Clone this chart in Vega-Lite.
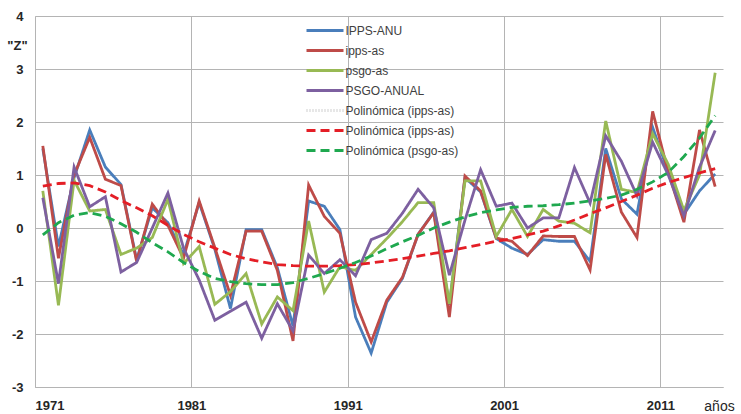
{
  "$schema": "https://vega.github.io/schema/vega-lite/v6.json",
  "width": 688,
  "height": 371,
  "autosize": "none",
  "padding": {"left": 35, "top": 16, "right": 18, "bottom": 27},
  "background": "white",
  "config": {"view": {"stroke": null}, "font": "Liberation Sans"},
  "data": {"values": [
    {"year":1971,"IPPS-ANU":1.5,"ipps-as":1.55,"psgo-as":0.7,"PSGO-ANUAL":0.57,"Polinómica (ipps-as)":0.79,"Polinómica (psgo-as)":-0.13},
    {"year":1972,"IPPS-ANU":-0.35,"ipps-as":-0.57,"psgo-as":-1.46,"PSGO-ANUAL":-1.05,"Polinómica (ipps-as)":0.84,"Polinómica (psgo-as)":0.1},
    {"year":1973,"IPPS-ANU":0.95,"ipps-as":1.0,"psgo-as":0.9,"PSGO-ANUAL":1.15,"Polinómica (ipps-as)":0.85,"Polinómica (psgo-as)":0.24},
    {"year":1974,"IPPS-ANU":1.85,"ipps-as":1.71,"psgo-as":0.32,"PSGO-ANUAL":0.4,"Polinómica (ipps-as)":0.8,"Polinómica (psgo-as)":0.29},
    {"year":1975,"IPPS-ANU":1.15,"ipps-as":0.92,"psgo-as":0.35,"PSGO-ANUAL":0.59,"Polinómica (ipps-as)":0.68,"Polinómica (psgo-as)":0.22},
    {"year":1976,"IPPS-ANU":0.82,"ipps-as":0.8,"psgo-as":-0.5,"PSGO-ANUAL":-0.83,"Polinómica (ipps-as)":0.52,"Polinómica (psgo-as)":0.08},
    {"year":1977,"IPPS-ANU":-0.6,"ipps-as":-0.63,"psgo-as":-0.38,"PSGO-ANUAL":-0.65,"Polinómica (ipps-as)":0.38,"Polinómica (psgo-as)":-0.08},
    {"year":1978,"IPPS-ANU":0.38,"ipps-as":0.45,"psgo-as":-0.18,"PSGO-ANUAL":0.0,"Polinómica (ipps-as)":0.23,"Polinómica (psgo-as)":-0.28},
    {"year":1979,"IPPS-ANU":0.1,"ipps-as":0.05,"psgo-as":0.54,"PSGO-ANUAL":0.66,"Polinómica (ipps-as)":0.05,"Polinómica (psgo-as)":-0.45},
    {"year":1980,"IPPS-ANU":-0.5,"ipps-as":-0.57,"psgo-as":-0.67,"PSGO-ANUAL":-0.38,"Polinómica (ipps-as)":-0.12,"Polinómica (psgo-as)":-0.65},
    {"year":1981,"IPPS-ANU":0.48,"ipps-as":0.51,"psgo-as":-0.35,"PSGO-ANUAL":-0.98,"Polinómica (ipps-as)":-0.26,"Polinómica (psgo-as)":-0.82},
    {"year":1982,"IPPS-ANU":-0.4,"ipps-as":-0.37,"psgo-as":-1.44,"PSGO-ANUAL":-1.74,"Polinómica (ipps-as)":-0.38,"Polinómica (psgo-as)":-0.95},
    {"year":1983,"IPPS-ANU":-1.52,"ipps-as":-1.27,"psgo-as":-1.2,"PSGO-ANUAL":-1.57,"Polinómica (ipps-as)":-0.5,"Polinómica (psgo-as)":-1.01},
    {"year":1984,"IPPS-ANU":-0.03,"ipps-as":-0.06,"psgo-as":-0.86,"PSGO-ANUAL":-1.4,"Polinómica (ipps-as)":-0.58,"Polinómica (psgo-as)":-1.05},
    {"year":1985,"IPPS-ANU":-0.03,"ipps-as":-0.06,"psgo-as":-1.81,"PSGO-ANUAL":-2.08,"Polinómica (ipps-as)":-0.64,"Polinómica (psgo-as)":-1.07},
    {"year":1986,"IPPS-ANU":-0.75,"ipps-as":-0.8,"psgo-as":-1.3,"PSGO-ANUAL":-1.43,"Polinómica (ipps-as)":-0.69,"Polinómica (psgo-as)":-1.07},
    {"year":1987,"IPPS-ANU":-1.85,"ipps-as":-2.13,"psgo-as":-1.56,"PSGO-ANUAL":-1.94,"Polinómica (ipps-as)":-0.71,"Polinómica (psgo-as)":-1.03},
    {"year":1988,"IPPS-ANU":0.51,"ipps-as":0.81,"psgo-as":0.13,"PSGO-ANUAL":-0.51,"Polinómica (ipps-as)":-0.72,"Polinómica (psgo-as)":-0.95},
    {"year":1989,"IPPS-ANU":0.41,"ipps-as":0.22,"psgo-as":-1.21,"PSGO-ANUAL":-0.86,"Polinómica (ipps-as)":-0.72,"Polinómica (psgo-as)":-0.86},
    {"year":1990,"IPPS-ANU":-0.03,"ipps-as":-0.1,"psgo-as":-0.73,"PSGO-ANUAL":-0.6,"Polinómica (ipps-as)":-0.71,"Polinómica (psgo-as)":-0.76},
    {"year":1991,"IPPS-ANU":-1.68,"ipps-as":-1.4,"psgo-as":-0.8,"PSGO-ANUAL":-0.9,"Polinómica (ipps-as)":-0.69,"Polinómica (psgo-as)":-0.65},
    {"year":1992,"IPPS-ANU":-2.36,"ipps-as":-2.15,"psgo-as":-0.5,"PSGO-ANUAL":-0.22,"Polinómica (ipps-as)":-0.66,"Polinómica (psgo-as)":-0.53},
    {"year":1993,"IPPS-ANU":-1.4,"ipps-as":-1.36,"psgo-as":-0.2,"PSGO-ANUAL":-0.1,"Polinómica (ipps-as)":-0.62,"Polinómica (psgo-as)":-0.39},
    {"year":1994,"IPPS-ANU":-0.95,"ipps-as":-0.93,"psgo-as":0.12,"PSGO-ANUAL":0.28,"Polinómica (ipps-as)":-0.58,"Polinómica (psgo-as)":-0.26},
    {"year":1995,"IPPS-ANU":-0.12,"ipps-as":-0.12,"psgo-as":0.48,"PSGO-ANUAL":0.73,"Polinómica (ipps-as)":-0.53,"Polinómica (psgo-as)":-0.14},
    {"year":1996,"IPPS-ANU":0.3,"ipps-as":0.29,"psgo-as":0.48,"PSGO-ANUAL":0.38,"Polinómica (ipps-as)":-0.48,"Polinómica (psgo-as)":0.0},
    {"year":1997,"IPPS-ANU":-1.45,"ipps-as":-1.68,"psgo-as":-1.43,"PSGO-ANUAL":-0.89,"Polinómica (ipps-as)":-0.43,"Polinómica (psgo-as)":0.11},
    {"year":1998,"IPPS-ANU":0.95,"ipps-as":0.98,"psgo-as":0.89,"PSGO-ANUAL":0.15,"Polinómica (ipps-as)":-0.37,"Polinómica (psgo-as)":0.21},
    {"year":1999,"IPPS-ANU":0.68,"ipps-as":0.7,"psgo-as":0.89,"PSGO-ANUAL":1.1,"Polinómica (ipps-as)":-0.31,"Polinómica (psgo-as)":0.29},
    {"year":2000,"IPPS-ANU":-0.2,"ipps-as":-0.19,"psgo-as":-0.16,"PSGO-ANUAL":0.41,"Polinómica (ipps-as)":-0.25,"Polinómica (psgo-as)":0.34},
    {"year":2001,"IPPS-ANU":-0.38,"ipps-as":-0.25,"psgo-as":0.35,"PSGO-ANUAL":0.47,"Polinómica (ipps-as)":-0.2,"Polinómica (psgo-as)":0.39},
    {"year":2002,"IPPS-ANU":-0.5,"ipps-as":-0.52,"psgo-as":-0.16,"PSGO-ANUAL":0.0,"Polinómica (ipps-as)":-0.13,"Polinómica (psgo-as)":0.41},
    {"year":2003,"IPPS-ANU":-0.22,"ipps-as":-0.15,"psgo-as":0.35,"PSGO-ANUAL":0.19,"Polinómica (ipps-as)":-0.06,"Polinómica (psgo-as)":0.42},
    {"year":2004,"IPPS-ANU":-0.25,"ipps-as":-0.16,"psgo-as":0.13,"PSGO-ANUAL":0.19,"Polinómica (ipps-as)":0.04,"Polinómica (psgo-as)":0.44},
    {"year":2005,"IPPS-ANU":-0.25,"ipps-as":-0.16,"psgo-as":0.09,"PSGO-ANUAL":1.14,"Polinómica (ipps-as)":0.15,"Polinómica (psgo-as)":0.47},
    {"year":2006,"IPPS-ANU":-0.63,"ipps-as":-0.79,"psgo-as":-0.09,"PSGO-ANUAL":0.47,"Polinómica (ipps-as)":0.27,"Polinómica (psgo-as)":0.51},
    {"year":2007,"IPPS-ANU":1.5,"ipps-as":1.39,"psgo-as":2.02,"PSGO-ANUAL":1.74,"Polinómica (ipps-as)":0.38,"Polinómica (psgo-as)":0.56},
    {"year":2008,"IPPS-ANU":0.55,"ipps-as":0.3,"psgo-as":0.73,"PSGO-ANUAL":1.26,"Polinómica (ipps-as)":0.5,"Polinómica (psgo-as)":0.62},
    {"year":2009,"IPPS-ANU":0.26,"ipps-as":-0.18,"psgo-as":0.67,"PSGO-ANUAL":0.61,"Polinómica (ipps-as)":0.62,"Polinómica (psgo-as)":0.73},
    {"year":2010,"IPPS-ANU":1.9,"ipps-as":2.2,"psgo-as":1.78,"PSGO-ANUAL":1.62,"Polinómica (ipps-as)":0.75,"Polinómica (psgo-as)":0.87},
    {"year":2011,"IPPS-ANU":1.05,"ipps-as":1.05,"psgo-as":1.2,"PSGO-ANUAL":1.0,"Polinómica (ipps-as)":0.86,"Polinómica (psgo-as)":1.05},
    {"year":2012,"IPPS-ANU":0.26,"ipps-as":0.11,"psgo-as":0.33,"PSGO-ANUAL":0.23,"Polinómica (ipps-as)":0.95,"Polinómica (psgo-as)":1.35},
    {"year":2013,"IPPS-ANU":0.7,"ipps-as":1.85,"psgo-as":1.0,"PSGO-ANUAL":1.15,"Polinómica (ipps-as)":1.04,"Polinómica (psgo-as)":1.7},
    {"year":2014,"IPPS-ANU":1.02,"ipps-as":0.78,"psgo-as":2.93,"PSGO-ANUAL":1.84,"Polinómica (ipps-as)":1.12,"Polinómica (psgo-as)":2.12}
  ]},
  "transform": [
    {"fold": ["IPPS-ANU","ipps-as","psgo-as","PSGO-ANUAL","Polinómica (ipps-as)","Polinómica (psgo-as)"], "as": ["serie","z"]}
  ],
  "mark": {"type": "line", "strokeCap": "butt", "strokeJoin": "miter"},
  "encoding": {
    "x": {
      "field": "year", "type": "quantitative",
      "scale": {"domain": [1970.5, 2014.5], "nice": false, "zero": false},
      "axis": {
        "values": [1970.5, 1980.5, 1990.5, 2000.5, 2010.5],
        "labelExpr": "'' + (datum.value + 0.5)",
        "labelDx": 10, "labelPadding": 12,
        "labelFont": "Liberation Sans", "labelFontSize": 13, "labelFontWeight": "bold", "labelColor": "#262626",
        "ticks": false, "grid": true, "gridColor": "#b4b4b4", "gridWidth": 1,
        "domainColor": "#b4b4b4", "domainWidth": 1,
        "title": "años", "titleFont": "Liberation Sans", "titleFontSize": 14, "titleFontWeight": "normal", "titleColor": "#262626",
        "titleX": 684, "titleY": 19, "titleAlign": "center", "titleBaseline": "middle"
      }
    },
    "y": {
      "field": "z", "type": "quantitative",
      "scale": {"domain": [-3, 4], "nice": false, "zero": false},
      "axis": {
        "values": [-3, -2, -1, 0, 1, 2, 3, 4],
        "labelExpr": "'' + datum.value",
        "labelPadding": 12,
        "labelFont": "Liberation Sans", "labelFontSize": 13, "labelFontWeight": "bold", "labelColor": "#262626",
        "ticks": false, "grid": true, "gridColor": "#b4b4b4", "gridWidth": 1,
        "domainColor": "#b4b4b4", "domainWidth": 1,
        "title": "\"Z\"", "titleFont": "Liberation Sans", "titleFontSize": 13, "titleFontWeight": "bold", "titleColor": "#262626",
        "titleAngle": 0, "titleX": -18, "titleY": 29, "titleAlign": "center", "titleBaseline": "middle"
      }
    },
    "color": {
      "field": "serie", "type": "nominal",
      "scale": {
        "domain": ["IPPS-ANU","ipps-as","psgo-as","PSGO-ANUAL","Polinómica (ipps-as) ","Polinómica (ipps-as)","Polinómica (psgo-as)"],
        "range": ["#4a7ebb","#be4b48","#98b954","#7d60a0","#d0d0d0","#e41e26","#1fa84f"]
      },
      "legend": {
        "title": null, "orient": "none", "legendX": 283.5, "legendY": 8,
        "symbolType": "M-3.7,0H3.7", "symbolSize": 100, "symbolStrokeWidth": 3,
        "labelFont": "Liberation Sans", "labelFontSize": 12, "labelColor": "#404040", "labelOffset": 14,
        "rowPadding": 7, "padding": 0, "labelLimit": 300
      }
    },
    "strokeDash": {
      "field": "serie", "type": "nominal",
      "scale": {
        "domain": ["IPPS-ANU","ipps-as","psgo-as","PSGO-ANUAL","Polinómica (ipps-as) ","Polinómica (ipps-as)","Polinómica (psgo-as)"],
        "range": [[1,0],[1,0],[1,0],[1,0],[1,2],[9,5],[9,5]]
      }
    },
    "strokeWidth": {
      "field": "serie", "type": "nominal",
      "scale": {
        "domain": ["IPPS-ANU","ipps-as","psgo-as","PSGO-ANUAL","Polinómica (ipps-as) ","Polinómica (ipps-as)","Polinómica (psgo-as)"],
        "range": [2.8, 2.8, 2.8, 2.8, 1, 3, 3]
      }
    }
  }
}
